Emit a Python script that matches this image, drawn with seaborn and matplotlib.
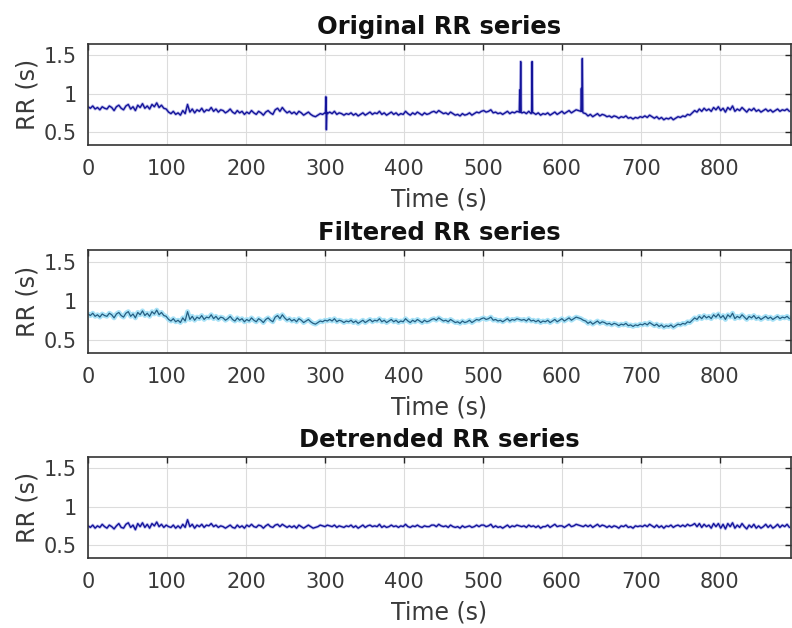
import numpy as np
import pandas as pd
import matplotlib
matplotlib.use("Agg")
import matplotlib.pyplot as plt
import seaborn as sns

# ---------------- data ----------------
sample_step_s = 3  # one value read every 3 s of the record

filtered_rr = [
    # 0-96 s
    0.83,0.81,0.84,0.80,0.82,0.79,0.83,0.81,0.80,0.84,0.82,0.78,0.83,0.85,0.81,0.79,0.84,0.86,0.80,0.83,
    0.78,0.85,0.82,0.87,0.81,0.84,0.80,0.86,0.83,0.88,0.82,0.85,0.81,
    # 99-198 s
    0.80,0.76,0.74,0.77,0.73,0.75,0.72,0.78,0.74,0.86,0.76,0.80,0.75,0.79,0.77,0.81,0.76,0.79,0.78,0.82,
    0.77,0.80,0.76,0.79,0.78,0.75,0.77,0.80,0.76,0.74,0.78,0.75,0.77,0.73,
    # 201-297 s
    0.76,0.74,0.78,0.75,0.73,0.77,0.75,0.72,0.76,0.78,0.75,0.73,0.79,0.81,0.77,0.82,0.78,0.75,0.77,0.74,
    0.76,0.73,0.77,0.75,0.72,0.74,0.76,0.73,0.71,0.70,0.72,0.74,0.73,
    # 300-498 s
    0.75,0.74,0.76,0.74,0.77,0.73,0.75,0.74,0.72,0.74,0.73,0.75,0.72,0.74,0.71,0.73,0.75,0.72,0.74,0.76,
    0.73,0.75,0.74,0.77,0.73,0.75,0.72,0.74,0.76,0.73,0.75,0.72,0.74,0.73,0.77,0.74,0.72,0.75,0.73,0.76,
    0.74,0.72,0.75,0.73,0.74,0.76,0.77,0.75,0.78,0.76,0.74,0.75,0.73,0.76,0.74,0.72,0.73,0.71,0.74,0.72,
    0.73,0.75,0.72,0.74,0.76,0.75,0.77,
    # 501-597 s
    0.78,0.76,0.77,0.79,0.75,0.76,0.74,0.75,0.73,0.75,0.77,0.74,0.76,0.75,0.77,0.76,0.75,0.76,0.74,0.77,
    0.74,0.75,0.73,0.75,0.72,0.74,0.73,0.75,0.72,0.74,0.76,0.73,0.75,
    # 600-696 s
    0.77,0.74,0.76,0.78,0.75,0.77,0.79,0.78,0.77,0.75,0.74,0.71,0.73,0.70,0.72,0.74,0.71,0.73,0.72,0.70,
    0.71,0.69,0.71,0.70,0.68,0.70,0.69,0.71,0.68,0.69,0.67,0.69,0.68,
    # 699-795 s
    0.70,0.69,0.71,0.69,0.72,0.70,0.68,0.70,0.67,0.69,0.66,0.68,0.67,0.69,0.66,0.68,0.70,0.69,0.71,0.70,
    0.73,0.72,0.75,0.78,0.76,0.80,0.77,0.81,0.78,0.80,0.77,0.82,0.79,
    # 798-888 s
    0.83,0.78,0.81,0.76,0.82,0.79,0.84,0.77,0.80,0.78,0.82,0.79,0.76,0.80,0.78,0.81,0.77,0.79,0.76,0.78,
    0.80,0.77,0.79,0.76,0.78,0.80,0.77,0.79,0.78,0.80,0.77,
]

# artifact beats present only in the original series (time s, RR s)
artifact_times = [300.6, 301.2, 301.8, 302.4,
                  546.6, 547.2, 547.8, 548.4, 549.6,
                  561.6, 562.2, 562.8,
                  624.6, 625.2, 625.8, 626.4]
artifact_values = [0.75, 0.96, 0.53, 0.76,
                   1.05, 0.76, 1.42, 0.76, 0.75,
                   0.76, 1.42, 0.75,
                   1.07, 0.77, 1.46, 0.76]

detrended_rr = [
    0.75,0.73,0.76,0.72,0.75,0.73,0.77,0.74,0.72,0.76,0.74,0.71,0.75,0.78,0.73,0.72,0.77,0.79,0.73,0.76,
    0.70,0.78,0.74,0.79,0.73,0.77,0.72,0.78,0.75,0.80,0.74,0.77,0.73,
    0.76,0.74,0.73,0.76,0.72,0.75,0.72,0.77,0.73,0.83,0.74,0.77,0.72,0.76,0.74,0.77,0.73,0.76,0.75,0.78,
    0.74,0.76,0.73,0.75,0.74,0.72,0.74,0.76,0.73,0.72,0.76,0.73,0.75,0.72,
    0.76,0.74,0.77,0.74,0.73,0.76,0.75,0.72,0.75,0.77,0.74,0.73,0.76,0.77,0.74,0.77,0.75,0.73,0.75,0.73,
    0.75,0.72,0.76,0.74,0.72,0.74,0.76,0.74,0.72,0.73,0.74,0.76,0.75,
    0.74,0.76,0.75,0.74,0.76,0.73,0.75,0.74,0.73,0.75,0.74,0.76,0.73,0.75,0.72,0.74,0.76,0.73,0.75,0.76,
    0.74,0.75,0.74,0.77,0.73,0.75,0.73,0.74,0.76,0.74,0.75,0.73,0.75,0.74,0.77,0.74,0.73,0.75,0.74,0.76,
    0.74,0.73,0.75,0.74,0.74,0.76,0.76,0.74,0.77,0.75,0.74,0.75,0.73,0.76,0.74,0.73,0.74,0.72,0.75,0.73,
    0.74,0.75,0.73,0.74,0.76,0.74,0.76,
    0.76,0.74,0.75,0.77,0.73,0.75,0.73,0.74,0.72,0.74,0.76,0.73,0.75,0.74,0.76,0.75,0.74,0.75,0.73,0.76,
    0.74,0.75,0.73,0.75,0.72,0.74,0.74,0.76,0.73,0.75,0.77,0.74,0.75,
    0.75,0.73,0.75,0.77,0.74,0.75,0.77,0.76,0.75,0.74,0.76,0.74,0.76,0.73,0.75,0.77,0.74,0.76,0.75,0.73,
    0.75,0.73,0.75,0.74,0.72,0.75,0.74,0.76,0.73,0.74,0.72,0.75,0.74,
    0.75,0.74,0.76,0.74,0.77,0.75,0.73,0.76,0.73,0.75,0.72,0.75,0.74,0.76,0.73,0.75,0.76,0.74,0.76,0.74,
    0.77,0.75,0.76,0.78,0.74,0.78,0.73,0.77,0.74,0.76,0.72,0.78,0.74,
    0.78,0.72,0.77,0.71,0.78,0.74,0.79,0.72,0.76,0.73,0.78,0.74,0.71,0.76,0.73,0.77,0.72,0.75,0.72,0.74,
    0.77,0.73,0.76,0.72,0.74,0.77,0.73,0.76,0.74,0.77,0.73,
]

titles = ["Original RR series", "Filtered RR series", "Detrended RR series"]
x_ticks = [0, 100, 200, 300, 400, 500, 600, 700, 800]
y_ticks = [0.5, 1.0, 1.5]
y_tick_labels = ["0.5", "1", "1.5"]
x_label = "Time (s)"
y_label = "RR (s)"

# ---------------- build frames ----------------
time_s = np.arange(len(filtered_rr)) * sample_step_s
df_filt = pd.DataFrame({"t": time_s, "rr": filtered_rr})
df_art = pd.DataFrame({"t": artifact_times, "rr": artifact_values})
df_orig = pd.concat([df_filt, df_art]).sort_values("t").reset_index(drop=True)
df_det = pd.DataFrame({"t": time_s, "rr": detrended_rr})

# ---------------- style ----------------
sns.set_style("white")
plt.rcParams["font.family"] = ["DejaVu Sans"]
text_col = "#3a3a3a"

fig = plt.figure(figsize=(7.92, 6.28), dpi=100)
W, H = 792, 628
boxes = [(44, 145), (250, 353), (457, 558)]  # top, bottom in px
axes = []
for (top, bot) in boxes:
    ax = fig.add_axes([88 / W, (H - bot) / H, 703 / W, (bot - top) / H])
    axes.append(ax)

def style(ax, title):
    ax.set_xlim(0, 890)
    ax.set_ylim(0.33, 1.65)
    ax.set_xticks(x_ticks)
    ax.set_xticklabels([str(v) for v in x_ticks])
    ax.set_yticks(y_ticks)
    ax.set_yticklabels(y_tick_labels)
    ax.grid(True, color="#dcdcdc", linewidth=0.8)
    ax.set_axisbelow(True)
    ax.tick_params(direction="in", length=4, width=1.0, top=True, right=True,
                   colors="#262626", labelcolor=text_col, labelsize=15)
    ax.tick_params(axis="x", pad=10)
    ax.tick_params(axis="y", pad=8)
    for s in ax.spines.values():
        s.set_color("#333333")
        s.set_linewidth(1.2)
    ax.set_xlabel(x_label, fontsize=17, color=text_col, labelpad=6)
    ax.set_ylabel(y_label, fontsize=17, color=text_col, labelpad=3)
    ax.set_title(title, fontsize=17.5, fontweight="bold", color="#111111", pad=7)

# Original
sns.lineplot(data=df_orig, x="t", y="rr", ax=axes[0], color="#7a7ad8",
             linewidth=2.2, estimator=None, sort=False, alpha=0.5)
sns.lineplot(data=df_orig, x="t", y="rr", ax=axes[0], color="#14149a",
             linewidth=1.0, estimator=None, sort=False)
# Filtered
sns.lineplot(data=df_filt, x="t", y="rr", ax=axes[1], color="#a8e2f7",
             linewidth=3.5, estimator=None, sort=False)
sns.lineplot(data=df_filt, x="t", y="rr", ax=axes[1], color="#255e82",
             linewidth=0.9, estimator=None, sort=False)
# Detrended
sns.lineplot(data=df_det, x="t", y="rr", ax=axes[2], color="#8080e0",
             linewidth=2.2, estimator=None, sort=False, alpha=0.5)
sns.lineplot(data=df_det, x="t", y="rr", ax=axes[2], color="#14149a",
             linewidth=1.0, estimator=None, sort=False)

for ax, t in zip(axes, titles):
    style(ax, t)

fig.savefig("out.png", dpi=100)
